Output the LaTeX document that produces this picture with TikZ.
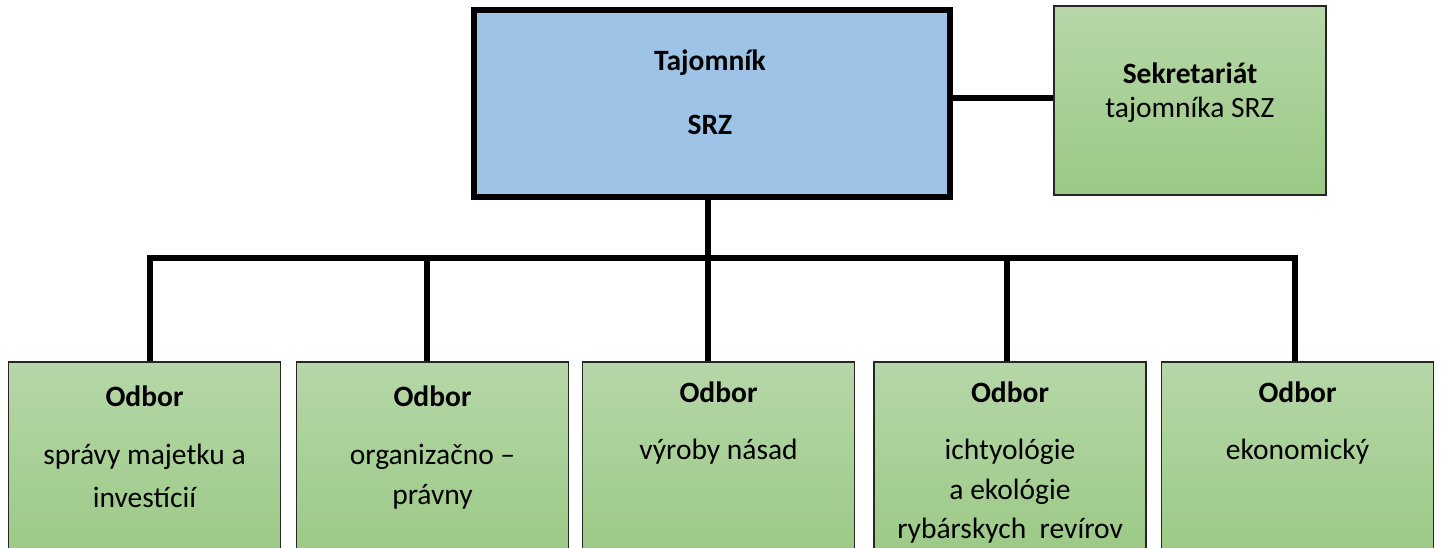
\documentclass[tikz,border=0pt]{standalone}
\usepackage{fontspec}
\setmainfont{Carlito}
\definecolor{bluefill}{HTML}{9DC3E6}
\definecolor{greentop}{HTML}{B6D7A8}
\definecolor{greenbot}{HTML}{9BC985}
\tikzset{
  topbox/.style={draw=black, line width=6pt, fill=bluefill, inner sep=0pt},
  greenbox/.style={draw=black!85, line width=1.8pt, top color=greentop, bottom color=greenbot, inner sep=0pt, minimum width=272pt},
  conn/.style={line width=5.5pt, draw=black},
  bold/.style={font=\fontsize{29.5}{35}\selectfont\bfseries, inner sep=0pt},
  reg/.style={font=\fontsize{29.5}{35}\selectfont, inner sep=0pt},
}
\begin{document}
\begin{tikzpicture}[x=1pt,y=-1pt]
\useasboundingbox (0,0) rectangle (1442,548);
% boxes
\node[topbox, minimum width=476pt, minimum height=187pt] (taj) at (712,103.5) {};
\node[greenbox, minimum height=189pt] (sek) at (1190,100.5) {};
\node[greenbox, minimum height=200pt] (b1) at (144.5,462) {};
\node[greenbox, minimum height=200pt] (b2) at (432.5,462) {};
\node[greenbox, minimum height=200pt] (b3) at (718.5,462) {};
\node[greenbox, minimum height=200pt] (b4) at (1010,462) {};
\node[greenbox, minimum height=200pt] (b5) at (1297.5,462) {};
% texts
\node[bold] (t1) at (710,63) {Tajomník};
\node[bold] (t2) at (710,125) {SRZ};
\node[bold] (s1) at (1190,73) {Sekretariát};
\node[reg] (s2) at (1190,110) {tajomníka SRZ};
\node[bold] (o1) at (144.5,396) {Odbor};
\node[reg] (p1a) at (144.5,457) {správy majetku a};
\node[reg] (p1b) at (144.5,497) {investícií};
\node[bold] (o2) at (432.5,396) {Odbor};
\node[reg] (p2a) at (432.5,457) {organizačno –};
\node[reg] (p2b) at (432.5,497) {právny};
\node[bold] (o3) at (718.5,392) {Odbor};
\node[reg] (p3a) at (718.5,452) {výroby násad};
\node[bold] (o4) at (1010,392) {Odbor};
\node[reg] (p4a) at (1010,452) {ichtyológie};
\node[reg] (p4b) at (1010,492) {a ekológie};
\node[reg] (p4c) at (1010,531) {rybárskych\ \ revírov};
\node[bold] (o5) at (1297.5,392) {Odbor};
\node[reg] (p5a) at (1297.5,452) {ekonomický};
% connectors
\coordinate (j1) at (150,258);
\coordinate (j2) at (427,258);
\coordinate (j3) at (708,258);
\coordinate (j4) at (1007,258);
\coordinate (j5) at (1295,258);
\coordinate (h) at (0,98);
\draw[conn] (taj.east |- h) -- (sek.west |- h);
\draw[conn] (taj.south -| j3) -- (j3);
\draw[conn] ([xshift=-2.75pt]j1) -- ([xshift=2.75pt]j5);
\draw[conn] (j1) -- (j1 |- b1.north);
\draw[conn] (j2) -- (j2 |- b2.north);
\draw[conn] (j3) -- (j3 |- b3.north);
\draw[conn] (j4) -- (j4 |- b4.north);
\draw[conn] (j5) -- (j5 |- b5.north);
\end{tikzpicture}
\end{document}
